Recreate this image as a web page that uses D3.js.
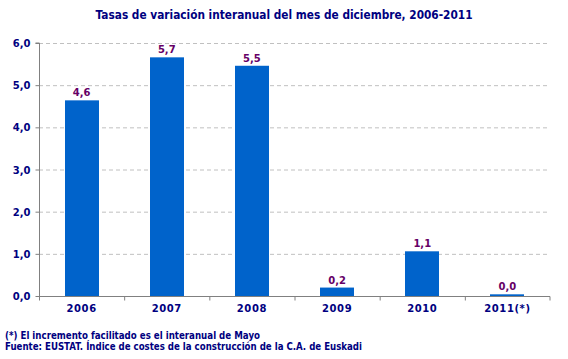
<!DOCTYPE html>
<html><head><meta charset="utf-8">
<script src="https://cdn.jsdelivr.net/npm/d3@7"></script>
<style>body{margin:0;background:#fff}svg{display:block}</style>
</head><body>
<script>
const categories = ["2006","2007","2008","2009","2010","2011(*)"];
const values = [4.64, 5.66, 5.46, 0.2, 1.06, 0.04];
const yTicks = [0,1,2,3,4,5,6];
const title = "Tasas de variación interanual del mes de diciembre, 2006-2011";
const notes = ["(*) El incremento facilitado es el interanual de Mayo",
               "Fuente: EUSTAT. Índice de costes de la construcción de la C.A. de Euskadi"];

const W=568,H=359;
const svg=d3.select("body").append("svg").attr("width",W).attr("height",H);
const font="'DejaVu Sans', Verdana, sans-serif";
const navy="#000080";
const x0=39,x1=550,yTop=43,yBot=296;
const x=d3.scaleBand().domain(categories).range([x0,x1]).paddingInner(0.6).paddingOuter(0.3);
const xb=d3.scaleBand().domain(categories).range([x0,x1]);
const y=d3.scaleLinear().domain([0,6]).range([yBot,yTop]);

svg.append("text").attr("x",W/2).attr("y",19).attr("text-anchor","middle")
  .attr("font-family",font).attr("font-weight","bold").attr("font-size",12.5)
  .attr("fill",navy).attr("textLength",377).attr("lengthAdjust","spacingAndGlyphs").text(title);

// grid
svg.append("g").selectAll("line").data(yTicks.filter(d=>d>0)).join("line")
  .attr("x1",x0).attr("x2",x1).attr("y1",d=>y(d)+0.5).attr("y2",d=>y(d)+0.5)
  .attr("stroke","#c0c0c0").attr("stroke-dasharray","4,3");

// bars
svg.append("g").selectAll("rect").data(values).join("rect")
  .attr("x",(d,i)=>Math.round(x(categories[i]))).attr("width",Math.round(x.bandwidth()))
  .attr("y",d=>y(d)).attr("height",d=>yBot-y(d)).attr("fill","#0063CB");

// value labels
svg.append("g").selectAll("text").data(values).join("text")
  .attr("x",(d,i)=>x(categories[i])+x.bandwidth()/2).attr("y",d=>y(d)-4)
  .attr("text-anchor","middle").attr("font-family",font).attr("font-weight","bold")
  .attr("font-size",10).attr("fill","#660066").text(d=>d.toFixed(1).replace(".",","));

// y axis
const ya=svg.append("g").attr("transform",`translate(${x0+0.5},0)`)
  .call(d3.axisLeft(y).tickValues(yTicks).tickSize(4).tickFormat(d=>d.toFixed(1).replace(".",",")));
ya.select(".domain").attr("stroke","#808080").attr("d",`M-4,${yTop}H0V${yBot}`);
ya.selectAll(".tick line").attr("stroke","#808080");
ya.selectAll("text").attr("font-family",font).attr("font-weight","bold").attr("font-size",10)
  .attr("fill",navy).attr("x",-9).attr("dy","0.35em");

// x axis
const xa=svg.append("g").attr("transform",`translate(0,${yBot+0.5})`)
  .call(d3.axisBottom(xb).tickSize(0));
xa.select(".domain").attr("stroke","#808080").attr("d",`M${x0},0H${x1}V4`);
xa.selectAll(".tick text").attr("font-family",font).attr("font-weight","bold").attr("font-size",10)
  .attr("fill",navy).attr("dy",0).attr("y",15).attr("letter-spacing",0.6);
xa.append("g").selectAll("line").data(categories).join("line")
  .attr("x1",d=>xb(d)+0.5).attr("x2",d=>xb(d)+0.5).attr("y1",0).attr("y2",4).attr("stroke","#808080");

// notes
const noteW=[255,357];
svg.append("g").selectAll("text").data(notes).join("text")
  .attr("x",5).attr("y",(d,i)=>339+i*11).attr("font-family",font).attr("font-weight","bold")
  .attr("font-size",10).attr("fill",navy)
  .attr("textLength",(d,i)=>noteW[i]).attr("lengthAdjust","spacingAndGlyphs").text(d=>d);
</script>
</body></html>
